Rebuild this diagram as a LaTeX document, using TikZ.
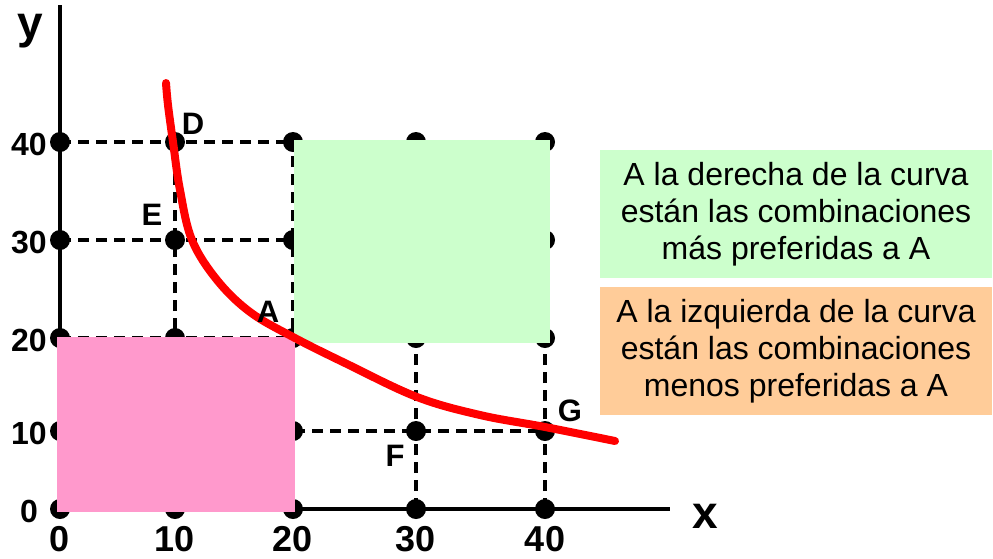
\documentclass[tikz,border=0pt]{standalone}
\usepackage{fontspec}
\setmainfont{Liberation Sans}
\usetikzlibrary{positioning}
\definecolor{prefgreen}{HTML}{CCFFCC}
\definecolor{lessorange}{HTML}{FFCC99}
\definecolor{lesspink}{HTML}{FF99CC}
\tikzstyle{dot} = [circle, fill=black, inner sep=0pt, minimum size=20pt]
\tikzstyle{grid} = [line width=3.5pt, dash pattern=on 11pt off 7pt]
\tikzstyle{axis} = [line width=4.5pt]
\tikzstyle{curve} = [red, line width=8pt, line cap=round]
\tikzstyle{ytick} = [inner sep=0pt, font=\fontsize{32}{32}\selectfont\bfseries]
\tikzstyle{xtick} = [inner sep=0pt, font=\fontsize{36}{36}\selectfont\bfseries]
\tikzstyle{ptlabel} = [inner sep=0pt, font=\fontsize{31}{31}\selectfont\bfseries]
\tikzstyle{axlabel} = [inner sep=0pt, font=\fontsize{46}{46}\selectfont\bfseries]
\tikzstyle{note} = [rectangle, minimum width=392pt, minimum height=128pt, inner sep=0pt, align=center, font=\fontsize{32}{37}\selectfont]

\begin{document}
\begin{tikzpicture}[x=1pt, y=-1pt]
            \useasboundingbox (0,0) rectangle (993,558);
            \foreach \i/\px in {0/60, 1/175, 2/293, 3/416, 4/545}
                \foreach \j/\py in {0/509, 1/431, 2/338, 3/240, 4/142}
                    \coordinate (g\i\j) at (\px,\py);
            \coordinate (ytop) at (60,5);
            \coordinate (xend) at (670,509);

            \foreach \k in {1,...,4} {
                \draw[grid] (g0\k) -- (g4\k);
                \draw[grid] (g\k0) -- (g\k4);
            }
            \draw[axis] (ytop) |- (xend);
            \foreach \i in {0,...,4}
                \foreach \j in {0,...,4}
                    \node[dot] (d\i\j) at (g\i\j) {};

            \fill[lesspink] (57,337) rectangle (295,512);
            \fill[prefgreen] (294,140) rectangle (550,343);

            \draw[curve] plot[smooth, tension=0.6] coordinates {(166,83) (168,105) (173,142) (180,190) (192,240) (217,280) (250,312) (293,337) (347,364) (417,397) (480,415) (545,427) (615,441)};

            \foreach \j/\val in {0/0, 1/10, 2/20, 3/30, 4/40}
                \node[ytick] (ylab\j) at ([xshift=-31pt, yshift=-2pt]g0\j) {\val};
            \foreach \i/\val in {0/0, 1/10, 2/20, 3/30, 4/40}
                \node[xtick, below=7pt of d\i0] (xlab\i) {\val};

            \node[axlabel] (ylabel) at (30,31) {y};
            \node[axlabel] (xlabel) at (705,516) {x};

            \node[ptlabel] (labD) at (193,124) {D};
            \node[ptlabel] (labE) at (152,215) {E};
            \node[ptlabel] (labA) at (268,312) {A};
            \node[ptlabel] (labF) at (395,456) {F};
            \node[ptlabel] (labG) at (570,411) {G};

            \node[note, fill=prefgreen] (rightnote) at (796,214) {A la derecha de la curva\\están las combinaciones\\más preferidas a A};
            \node[note, fill=lessorange, below=9pt of rightnote] (leftnote) {A la izquierda de la curva\\están las combinaciones\\menos preferidas a A};
\end{tikzpicture}
\end{document}
